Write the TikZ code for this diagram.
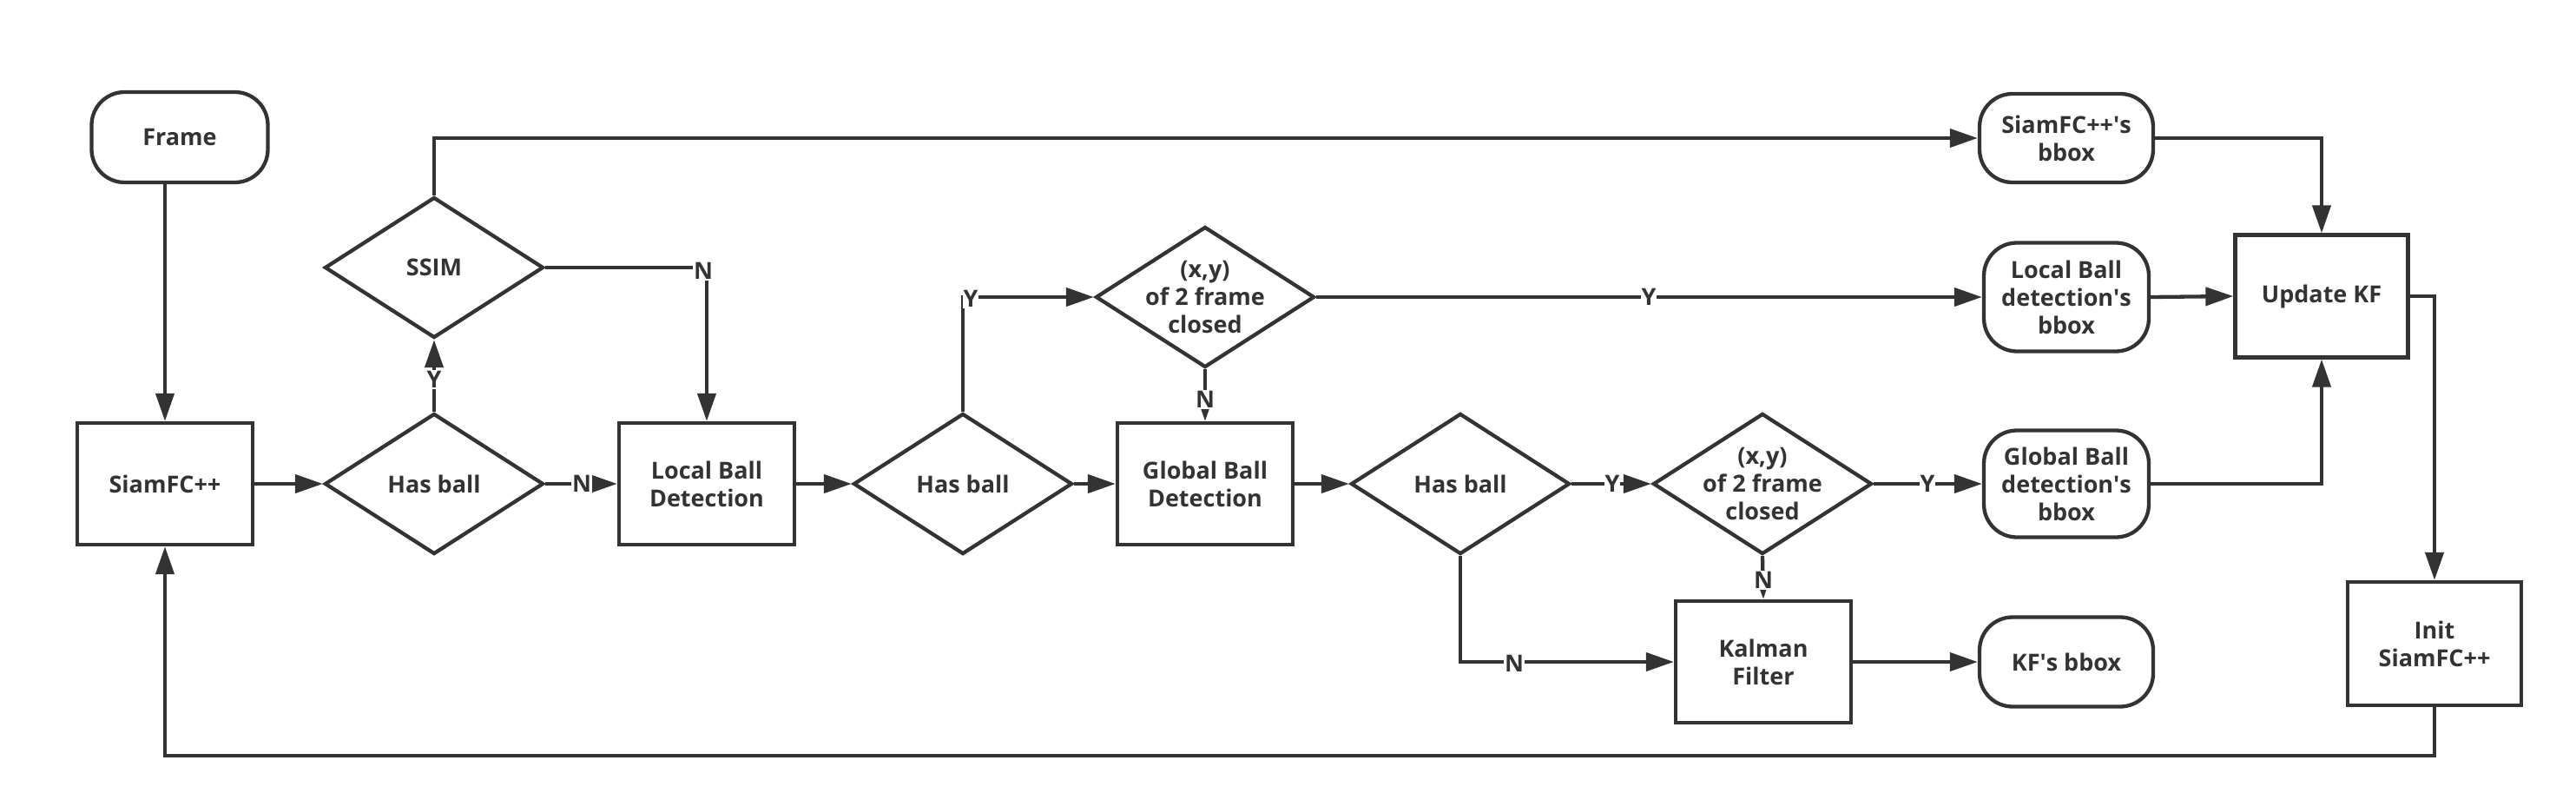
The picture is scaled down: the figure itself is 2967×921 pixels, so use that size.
\documentclass[tikz,border=0pt]{standalone}
\usepackage{fontspec}
\setmainfont{Open Sans}
\usetikzlibrary{shapes.geometric,shapes.misc,arrows.meta}
\definecolor{ink}{HTML}{333333}
\begin{document}
\begin{tikzpicture}[x=1pt,y=-1pt,
  every node/.style={font=\fontsize{27}{32}\selectfont\bfseries, text=ink},
  box/.style={draw=ink, line width=4.3pt, rectangle, minimum width=202pt, minimum height=140pt, align=center, inner sep=0pt},
  term/.style={draw=ink, line width=4.3pt, rectangle, rounded corners=38pt, align=center, inner sep=0pt},
  dia/.style={draw=ink, line width=4.3pt, diamond, minimum width=252pt, minimum height=162pt, inner sep=0pt},
  lab/.style={fill=white, inner sep=1pt},
  arr/.style={draw=ink, line width=4.3pt, -{Triangle[length=32pt,width=21pt]}},
  ln/.style={draw=ink, line width=4.3pt}
]
\useasboundingbox (0,0) rectangle (2967,921);
% nodes
\node[term, minimum width=203pt, minimum height=104pt] (frame) at (207,158) {Frame};
\node[box] (siam) at (190,557) {SiamFC++};
\node[dia, label={[align=center]center:Has ball}] (has1) at (500,557) {};
\node[dia, label={[align=center]center:SSIM}] (ssim) at (500,308) {};
\node[box] (local) at (814,557) {Local Ball\\Detection};
\node[dia, label={[align=center]center:Has ball}] (has2) at (1109,557) {};
\node[dia, label={[align=center]center:(x,y)\\of 2 frame\\closed}] (xy1) at (1388,342) {};
\node[box] (glob) at (1388,557) {Global Ball\\Detection};
\node[dia, label={[align=center]center:Has ball}] (has3) at (1682,557) {};
\node[dia, label={[align=center]center:(x,y)\\of 2 frame\\closed}] (xy2) at (2030,557) {};
\node[box] (kal) at (2031,762) {Kalman\\Filter};
\node[term, minimum width=200pt, minimum height=103pt] (kfb) at (2380,762) {KF\textquotesingle s bbox};
\node[term, minimum width=190pt, minimum height=123pt] (gbb) at (2380,557) {Global Ball\\detection\textquotesingle s\\bbox};
\node[term, minimum width=190pt, minimum height=125pt] (lbb) at (2380,342) {Local Ball\\detection\textquotesingle s\\bbox};
\node[term, minimum width=200pt, minimum height=102pt] (sbb) at (2380,159) {SiamFC++\textquotesingle s\\bbox};
\node[box, minimum width=199pt, minimum height=141pt] (upd) at (2674,341) {Update KF};
\node[box, minimum width=200pt, minimum height=142pt] (init) at (2804,741) {Init\\SiamFC++};
% connectors
\draw[arr] (siam.north |- frame.south) -- (siam.north);
\draw[arr] (siam.east) -- (has1.west);
\draw[arr] (has1.north) -- (ssim.south);
\draw[arr] (has1.east) -- (local.west);
\draw[arr] (ssim.east) -| (local.north);
\draw[arr] (ssim.north) |- (sbb.west);
\draw[arr] (local.east) -- (has2.west);
\draw[arr] (has2.north) |- (xy1.west);
\draw[arr] (has2.east) -- (glob.west);
\draw[arr] (xy1.south) -- (glob.north);
\draw[arr] (xy1.east) -- (lbb.west);
\draw[arr] (glob.east) -- (has3.west);
\draw[arr] (has3.east) -- (xy2.west);
\draw[arr] (has3.south) |- (kal.west);
\draw[arr] (xy2.south) -- (kal.north);
\draw[arr] (xy2.east) -- (gbb.west);
\draw[arr] (kal.east) -- (kfb.west);
\draw[arr] (sbb.east) -| (upd.north);
\draw[arr] (lbb.east) -- (upd.west);
\draw[arr] (gbb.east) -| (upd.south);
\draw[arr] (upd.east) -| (init.north);
\coordinate (loop) at (0,870);
\draw[arr] (init.south) -- (init.south |- loop) -| (siam.south);
% labels
\node[lab] (l1) at (500,437) {Y};
\node[lab] (l2) at (810,312) {N};
\node[lab] (l3) at (670,557) {N};
\node[lab] (l4) at (1118,344) {Y};
\node[lab] (l5) at (1388,460) {N};
\node[lab] (l6) at (1899,342) {Y};
\node[lab] (l7) at (1857,557) {Y};
\node[lab] (l8) at (1744,764) {N};
\node[lab] (l9) at (2031,668) {N};
\node[lab] (l10) at (2220,557) {Y};
\end{tikzpicture}
\end{document}
